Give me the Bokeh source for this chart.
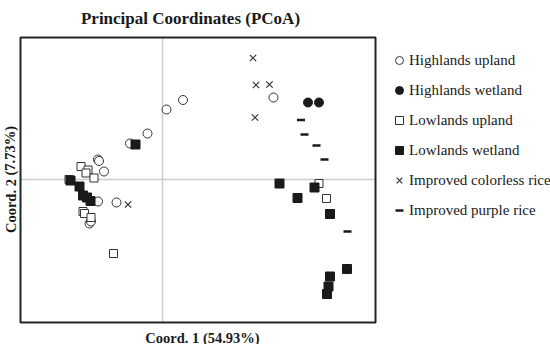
from bokeh.plotting import figure
from bokeh.models import Label, Legend, LegendItem, Range1d
from bokeh.embed import file_html
from bokeh.resources import INLINE

# --- data (PCoA coordinates) ---
hu_x = [0.41, 0.08, -0.30, -0.65, -1.29, -1.27, -1.17, -1.29, -0.92, -1.46, -1.43, 2.22]
hu_y = [1.59, 1.40, 0.92, 0.72, 0.40, 0.37, 0.16, -0.44, -0.46, -0.88, -0.84, 1.64]

hw_x = [2.91, 3.13]
hw_y = [1.54, 1.54]

lu_x = [-1.63, -1.49, -1.53, -1.37, -1.59, -1.56, -1.43, -0.98, 3.13, 3.28, -1.87]
lu_y = [0.26, 0.19, 0.13, 0.03, -0.64, -0.68, -0.76, -1.48, -0.08, -0.38, 0.00]

lw_x = [-0.54, -1.84, -1.66, -1.59, -1.51, -1.44, 2.34, 2.70, 3.04, 3.35, 3.69, 3.35, 3.32, 3.29]
lw_y = [0.70, -0.02, -0.14, -0.32, -0.36, -0.43, -0.08, -0.37, -0.16, -0.69, -1.79, -1.94, -2.14, -2.29]

ic_x = [1.81, 1.87, 2.14, 1.85, -0.69]
ic_y = [2.43, 1.89, 1.90, 1.24, -0.50]

ip_x = [2.77, 2.84, 3.08, 3.24, 3.70]
ip_y = [1.19, 0.90, 0.68, 0.40, -1.04]

# plotting box (axis limits) of the PCoA panel
box_x = [-2.84, 4.26]
box_y = [-2.86, 2.84]

title = "Principal Coordinates (PCoA)"
xlabel = "Coord. 1 (54.93%)"
ylabel = "Coord. 2 (7.73%)"
labels = ["Highlands upland", "Highlands wetland", "Lowlands upland",
          "Lowlands wetland", "Improved colorless rice", "Improved purple rice"]

FONT = "Liberation Serif"
INK = "#1a1a1a"
W, H = 550, 344
PX = 50.0  # pixels per unit
# canvas covers whole figure; the box sits at pixels (20,37)-(375,322)
x_lo = box_x[0] - 20 / PX
y_hi = box_y[1] + 37 / PX


def dx(px):
    return x_lo + px / PX


def dy(py):
    return y_hi - py / PX


p = figure(width=W, height=H, output_backend="svg", toolbar_location=None,
           x_range=Range1d(x_lo, x_lo + W / PX), y_range=Range1d(y_hi - H / PX, y_hi),
           min_border=0)
p.xaxis.visible = False
p.yaxis.visible = False
p.grid.visible = False
p.outline_line_color = None
p.background_fill_color = "white"
p.border_fill_color = "white"

# zero lines inside the box
p.segment(x0=[0, box_x[0]], y0=[box_y[0], 0], x1=[0, box_x[1]], y1=[box_y[1], 0],
          line_color="#cccccc", line_width=1.5)

r_hu = p.scatter(hu_x, hu_y, marker="circle", size=9, fill_color="white",
                 line_color="#333333", line_width=1)
r_hw = p.scatter(hw_x, hw_y, marker="circle", size=9, fill_color=INK,
                 line_color=INK, line_width=1)
r_lu = p.scatter(lu_x, lu_y, marker="square", size=8, fill_color="white",
                 line_color="#333333", line_width=1)
r_lw = p.scatter(lw_x, lw_y, marker="square", size=9, fill_color=INK,
                 line_color=INK, line_width=1)
r_ic = p.scatter(ic_x, ic_y, marker="x", size=9, line_color="#333333", line_width=1.2)
r_ip = p.scatter(ip_x, ip_y, marker="dash", size=8, line_color=INK, line_width=2.5)

# box frame
p.quad(left=[box_x[0]], right=[box_x[1]], bottom=[box_y[0]], top=[box_y[1]],
       fill_color=None, line_color="#222222", line_width=2)

legend = Legend(items=[LegendItem(label=l, renderers=[r]) for l, r in
                       zip(labels, [r_hu, r_hw, r_lu, r_lw, r_ic, r_ip])],
                location=(389, 124), orientation="vertical",
                glyph_width=20, glyph_height=20, label_height=20,
                spacing=10, padding=0, margin=0, label_standoff=0,
                label_text_font=FONT, label_text_font_size="15px",
                label_text_color=INK, border_line_color=None,
                background_fill_alpha=0)
p.add_layout(legend, "center")

p.add_layout(Label(x=dx(190), y=dy(18), text=title, text_align="center",
                   text_baseline="alphabetic", text_font=FONT, text_font_style="bold",
                   text_font_size="17px", text_color=INK))
p.add_layout(Label(x=dx(202), y=dy(337), text=xlabel, text_align="center",
                   text_baseline="alphabetic", text_font=FONT, text_font_style="bold",
                   text_font_size="14.5px", text_color=INK))
p.add_layout(Label(x=dx(10), y=dy(179), text=ylabel, text_align="center",
                   text_baseline="middle", angle=1.5708, text_font=FONT,
                   text_font_style="bold", text_font_size="14.5px", text_color=INK))

open("out.html", "w").write(file_html(p, INLINE))
